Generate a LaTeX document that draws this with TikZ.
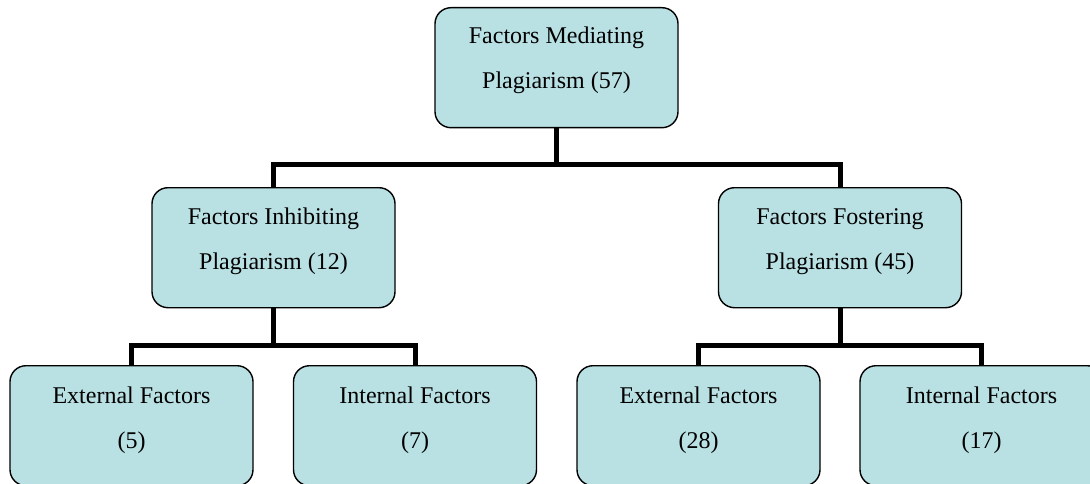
\documentclass[tikz,border=0pt]{standalone}
\usepackage{fontspec}
\setmainfont{Liberation Serif}
\usetikzlibrary{calc}
\definecolor{boxfill}{RGB}{185,224,227}
\tikzset{
  box/.style={draw=black, line width=1.4pt, fill=boxfill, rounded corners=16pt,
    minimum width=243pt, minimum height=120pt, inner sep=0pt, anchor=north},
  lbl/.style={anchor=base, inner sep=0pt, font=\fontsize{24}{28}\selectfont},
  conn/.style={draw=black, line width=5pt}
}
\begin{document}
\begin{tikzpicture}[x=1pt,y=-1pt]
\useasboundingbox (0,0) rectangle (1090,484);
\clip (0,0) rectangle (1090,484);
% boxes
\node[box] (top) at (556.5,7) {};
\node[box] (ml) at (273.5,187) {};
\node[box] (mr) at (840,187) {};
\node[box] (b1) at (131.5,365) {};
\node[box] (b2) at (415,365) {};
\node[box] (b3) at (698.5,365) {};
\node[box] (b4) at (981.5,365) {};
% labels
\node[lbl] (topa) at ($(top.north)+(0,37)$) {Factors Mediating};
\node[lbl] (topb) at ($(top.north)+(0,82)$) {Plagiarism (57)};
\node[lbl] (mla) at ($(ml.north)+(0,37)$) {Factors Inhibiting};
\node[lbl] (mlb) at ($(ml.north)+(0,82)$) {Plagiarism (12)};
\node[lbl] (mra) at ($(mr.north)+(0,37)$) {Factors Fostering};
\node[lbl] (mrb) at ($(mr.north)+(0,82)$) {Plagiarism (45)};
\node[lbl] (b1a) at ($(b1.north)+(0,38)$) {External Factors};
\node[lbl] (b1b) at ($(b1.north)+(0,83)$) {(5)};
\node[lbl] (b2a) at ($(b2.north)+(0,38)$) {Internal Factors};
\node[lbl] (b2b) at ($(b2.north)+(0,83)$) {(7)};
\node[lbl] (b3a) at ($(b3.north)+(0,38)$) {External Factors};
\node[lbl] (b3b) at ($(b3.north)+(0,83)$) {(28)};
\node[lbl] (b4a) at ($(b4.north)+(0,38)$) {Internal Factors};
\node[lbl] (b4b) at ($(b4.north)+(0,83)$) {(17)};
% connectors
\draw[conn] (top.south) -- ++(0,36) -| (ml.north);
\draw[conn] (top.south) -- ++(0,36) -| (mr.north);
\draw[conn] (ml.south) -- ++(0,37) -| (b1.north);
\draw[conn] (ml.south) -- ++(0,37) -| (b2.north);
\draw[conn] (mr.south) -- ++(0,37) -| (b3.north);
\draw[conn] (mr.south) -- ++(0,37) -| (b4.north);
\end{tikzpicture}
\end{document}
